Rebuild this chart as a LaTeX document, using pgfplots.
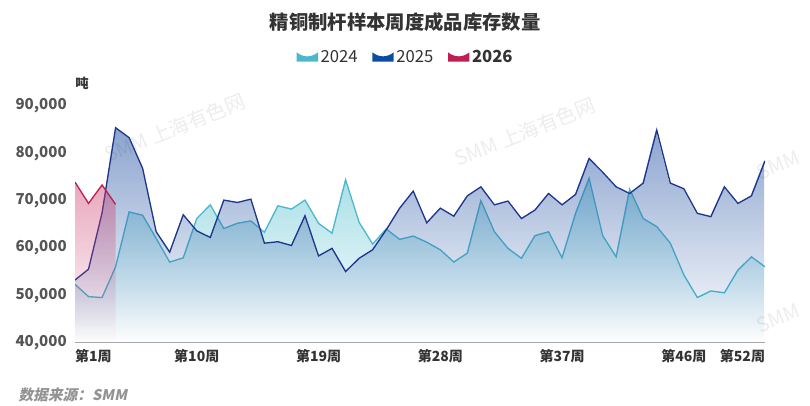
\documentclass[border=0pt]{standalone}
\usepackage{fontspec}
\setmainfont{Noto Sans CJK SC}
\newfontfamily\srcfont{Noto Sans CJK SC}[FakeSlant=0.2]
\usepackage{pgfplots}
\usepackage{pgfplotstable}
\pgfplotsset{compat=1.18}
\usetikzlibrary{fadings}

\definecolor{c24}{RGB}{77,184,204}
\definecolor{c24f}{RGB}{99,197,211}
\definecolor{c25}{RGB}{30,55,140}
\definecolor{c25f}{RGB}{42,88,166}
\definecolor{c25leg}{RGB}{11,77,162}
\definecolor{c26}{RGB}{190,30,80}
\definecolor{c26f}{RGB}{205,60,110}
\definecolor{txt}{RGB}{51,51,51}
\definecolor{ticktxt}{RGB}{85,85,85}

% weekly finished-goods inventory, tonnes
\pgfplotstableread{
w y
1 52300
2 49700
3 49500
4 56000
5 67600
6 66900
7 62000
8 57000
9 57900
10 66200
11 69100
12 64100
13 65200
14 65700
15 63300
16 68900
17 68200
18 70100
19 65200
20 63100
21 74400
22 65400
23 60800
24 64000
25 61800
26 62500
27 61200
28 59600
29 57000
30 58900
31 70000
32 63400
33 59900
34 57800
35 62600
36 63400
37 57900
38 67300
39 74700
40 62600
41 58100
42 72400
43 66200
44 64500
45 61000
46 54300
47 49500
48 50900
49 50500
50 55300
51 58100
52 56000
}\yrA

\pgfplotstableread{
w y
1 53200
2 55500
3 67400
4 85400
5 83300
6 76800
7 63400
8 59100
9 67000
10 63600
11 62200
12 70100
13 69600
14 70300
15 61000
16 61300
17 60500
18 66800
19 58300
20 59900
21 55000
22 57800
23 59600
24 63800
25 68400
26 72000
27 65300
28 68400
29 66700
30 71000
31 72900
32 69100
33 69900
34 66200
35 68000
36 71500
37 69100
38 71300
39 78900
40 76000
41 72900
42 71500
43 73700
44 84900
45 73700
46 72500
47 67300
48 66600
49 72900
50 69400
51 71000
52 78400
}\yrB

\pgfplotstableread{
w y
1 73900
2 69400
3 73300
4 69200
}\yrC

\begin{document}
\begin{tikzpicture}
\useasboundingbox (0,0) rectangle (607.5pt,304.5pt);

\node[font=\bfseries\fontsize{14.5}{16}\selectfont, text=txt] at (303.75pt,288pt) {精铜制杆样本周度成品库存数量};
\node[font=\bfseries\fontsize{10}{12}\selectfont, text=txt] at (61.5pt,242.25pt) {吨};
\node[anchor=west, font=\srcfont\bfseries\fontsize{11}{13}\selectfont, text=gray!85] at (10.5pt,8.25pt) {数据来源：SMM};

\begin{axis}[
    at={(56.25pt,47.625pt)}, anchor=south west,
    scale only axis,
    width=517.5pt, height=177.4pt,
    xmin=1, xmax=52, ymin=40000, ymax=90000,
    axis lines*=left,
    y axis line style={draw=none},
    x axis line style={draw=gray!70, line width=0.8pt},
    major tick length=0pt,
    xtick={1,10,19,28,37,46,52},
    xticklabels={\rlap{第1周},第10周,第19周,第28周,第37周,第46周,\llap{第52周}},
    ytick={40000,50000,...,90000},
    scaled y ticks=false,
    yticklabel={\pgfmathprintnumber[fixed,1000 sep={,},assume math mode=true]{\tick}},
    xticklabel style={anchor=north, inner sep=0pt, yshift=-5pt,
        font=\bfseries\fontsize{10.5}{12}\selectfont, text=txt},
    yticklabel style={anchor=east, inner sep=0pt, xshift=-6pt,
        font=\bfseries\fontsize{11.3}{13}\selectfont, text=ticktxt},
    legend columns=3,
    legend style={at={(0.4797,1.207)}, anchor=center, draw=none, fill=none,
        font=\fontsize{12.5}{14}\selectfont, text=txt,
        /tikz/every even column/.append style={column sep=9pt}},
    legend image code/.code={
        \fill[#1] (-1pt,-3.5pt) -- (-1pt,3.5pt) .. controls (4pt,-0.5pt) and (10pt,-0.5pt) .. (15pt,3.5pt) -- (15pt,-3.5pt) -- cycle;},
]
\addlegendimage{fill=c24, draw=none}
\addlegendentry{2024}
\addlegendimage{fill=c25leg, draw=none}
\addlegendentry{2025}
\addlegendimage{fill=c26, draw=none}
\addlegendentry{\textbf{2026}}

\addplot[fill=c24f, fill opacity=0.55, path fading=south, draw=none, forget plot]
    table[x=w, y=y] {\yrA} -- (axis cs:52,40000) -- (axis cs:1,40000) -- cycle;
\addplot[c24, line width=1pt, forget plot] table[x=w, y=y] {\yrA};

\addplot[fill=c25f, fill opacity=0.55, path fading=south, draw=none, forget plot]
    table[x=w, y=y] {\yrB} -- (axis cs:52,40000) -- (axis cs:1,40000) -- cycle;
\addplot[c25, line width=1pt, forget plot] table[x=w, y=y] {\yrB};

\addplot[fill=c26f, fill opacity=0.45, path fading=south, draw=none, forget plot]
    table[x=w, y=y] {\yrC} -- (axis cs:4,40000) -- (axis cs:1,40000) -- cycle;
\addplot[c26, line width=1pt, forget plot] table[x=w, y=y] {\yrC};
\end{axis}

\foreach \px/\py/\wm in {175/128/SMM 上海有色网, 525/132/SMM 上海有色网, 778/165/SMM, 778/318/SMM} {
    \node[rotate=22, text=black, text opacity=0.07, font=\fontsize{15}{17}\selectfont]
        at (\px*0.75pt, 304.5pt-\py*0.75pt) {\wm};
}
\end{tikzpicture}
\end{document}
